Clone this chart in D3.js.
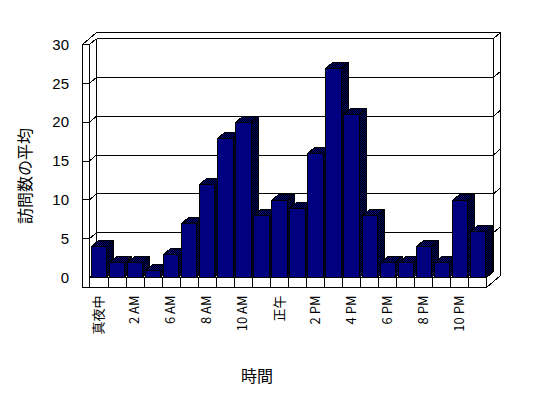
<!DOCTYPE html>
<html>
<head>
<meta charset="utf-8">
<script src="https://cdn.jsdelivr.net/npm/d3@7"></script>
<style>
  body { margin: 0; background: #fff; }
  svg { display: block; }
  .axis text { font-family: 'Noto Sans CJK JP', 'Liberation Sans', sans-serif; fill: #000; }
  .title { font-family: 'Noto Sans CJK JP', sans-serif; font-size: 16px; fill: #000; }
</style>
</head>
<body>
<div id="chart"></div>
<script>
// data
const categories = ['真夜中', '1 AM', '2 AM', '3 AM', '6 AM', '7 AM', '8 AM', '9 AM', '10 AM', '11 AM', '正午',
  '1 PM', '2 PM', '3 PM', '4 PM', '5 PM', '6 PM', '7 PM', '8 PM', '9 PM', '10 PM', '11 PM'];
const visits = [4, 2, 2, 1, 3, 7, 12, 18, 20, 8, 10, 9, 16, 27, 21, 8, 2, 2, 4, 2, 10, 6];
const yTicks = [0, 5, 10, 15, 20, 25, 30];
const xTickLabels = ['真夜中', '2 AM', '6 AM', '8 AM', '10 AM', '正午', '2 PM', '4 PM', '6 PM', '8 PM', '10 PM'];

const width = 548, height = 398;
// front plane of the plot
const plot = {left: 89.5, right: 486.5, base: 277.5, top: 44.5};
const dx = 7, dy = -6;       // depth offset of one layer
const wallLeft = 82.5;       // outer face of the left wall
const floorBottom = 287.5;   // bottom of floor slab

const svg = d3.select('#chart').append('svg')
  .attr('width', width)
  .attr('height', height)
  .attr('shape-rendering', 'crispEdges');

// checker fills for the top and side faces
const defs = svg.append('defs');
const checker = (id, a, b) => {
  const p = defs.append('pattern').attr('id', id).attr('width', 2).attr('height', 2)
    .attr('patternUnits', 'userSpaceOnUse');
  p.append('rect').attr('width', 2).attr('height', 2).attr('fill', a);
  p.append('rect').attr('width', 1).attr('height', 1).attr('fill', b);
  p.append('rect').attr('x', 1).attr('y', 1).attr('width', 1).attr('height', 1).attr('fill', b);
};
checker('topFill', '#000080', '#000');
checker('sideFill', '#000060', '#000');

const x = d3.scaleBand().domain(categories).range([plot.left, plot.right]);
const y = d3.scaleLinear().domain([0, 30]).range([plot.base, plot.top]);

const line = (pts) => 'M' + pts.map(p => p.join(',')).join('L');

// walls and floor
const frame = svg.append('g').attr('fill', 'none').attr('stroke', '#000');
frame.append('path')
  .attr('d', line([[wallLeft, plot.top], [wallLeft + 2 * dx, plot.top + 2 * dy], [plot.right + 2 * dx, plot.top + 2 * dy],
    [plot.right + 2 * dx, floorBottom + 2 * dy], [plot.right, floorBottom], [wallLeft, floorBottom]]) + 'Z')
  .attr('fill', '#fff');

const segs = [
  [[wallLeft, plot.top], [plot.left, plot.top]],
  [[plot.left, plot.top], [plot.left, floorBottom]],
  [[plot.left, plot.top], [plot.left + dx, plot.top + dy]],
  [[plot.left + dx, plot.top + dy], [plot.left + dx, plot.base + dy]],
  [[plot.left + dx, plot.top + dy], [plot.right + dx, plot.top + dy]],
  [[plot.right + dx, plot.top + dy], [plot.right + 2 * dx, plot.top + 2 * dy]],
  [[plot.right + dx, plot.top + dy], [plot.right + dx, plot.base + dy]],
  [[plot.right + dx, plot.base + dy], [plot.right, plot.base]],
  [[plot.left + dx, plot.base + dy], [plot.right + dx, plot.base + dy]],
  [[plot.left, plot.base], [plot.left + dx, plot.base + dy]],
  [[plot.left, plot.base], [plot.right, plot.base]],
  [[plot.right, plot.base], [plot.right, floorBottom]]
];
frame.selectAll('.edge').data(segs).enter().append('path')
  .attr('class', 'edge')
  .attr('d', d => line(d));

// gridlines across the back wall and side faces
const grid = frame.selectAll('.grid').data(yTicks.filter(v => v > 0 && v < 30)).enter()
  .append('g').attr('class', 'grid');
grid.append('path').attr('d', v => line([[wallLeft, y(v)], [plot.left, y(v)], [plot.left + dx, y(v) + dy],
  [plot.right + dx, y(v) + dy], [plot.right + 2 * dx, y(v) + 2 * dy]]));

// dividers on the floor front
frame.selectAll('.div').data(categories.slice(1)).enter().append('path')
  .attr('class', 'div')
  .attr('d', d => line([[Math.round(x(d)) + 0.5, plot.base], [Math.round(x(d)) + 0.5, floorBottom]]));

// bars, drawn left to right so each one hides the side of the one before
const pad = x.bandwidth() * 0.075;
const bars = svg.append('g').attr('stroke', '#000');
const bar = bars.selectAll('.bar').data(visits).enter().append('g').attr('class', 'bar');
const bx0 = (d, i) => Math.round(x(categories[i]) + pad) + 0.5;
const bx1 = (d, i) => Math.round(x(categories[i]) + x.bandwidth() - pad) + 0.5;
const by = d => Math.round(y(d)) + 0.5;

bar.append('path').attr('fill', 'url(#sideFill)')
  .attr('d', (d, i) => line([[bx1(d, i), by(d)], [bx1(d, i) + dx, by(d) + dy], [bx1(d, i) + dx, plot.base + dy], [bx1(d, i), plot.base]]) + 'Z');
bar.append('path').attr('fill', 'url(#topFill)')
  .attr('d', (d, i) => line([[bx0(d, i), by(d)], [bx1(d, i), by(d)], [bx1(d, i) + dx, by(d) + dy], [bx0(d, i) + dx, by(d) + dy]]) + 'Z');
bar.append('path').attr('fill', '#000080')
  .attr('d', (d, i) => line([[bx0(d, i), by(d)], [bx1(d, i), by(d)], [bx1(d, i), plot.base], [bx0(d, i), plot.base]]) + 'Z');

// y axis
const yAxis = svg.append('g').attr('class', 'axis')
  .attr('transform', 'translate(69,0)')
  .call(d3.axisLeft(y).tickValues(yTicks).tickSize(0).tickPadding(0));
yAxis.select('.domain').remove();
yAxis.selectAll('text')
  .style('font-family', "'Liberation Sans', sans-serif")
  .style('font-size', '15px');

// x axis
const shown = categories.filter(c => xTickLabels.includes(c));
const xAxis = svg.append('g').attr('class', 'axis')
  .attr('transform', `translate(0,${floorBottom})`)
  .call(d3.axisBottom(x).tickValues(shown).tickSize(0));
xAxis.select('.domain').remove();
xAxis.selectAll('text')
  .style('font-size', '13px')
  .attr('text-anchor', 'end')
  .attr('transform', 'rotate(-90)')
  .attr('x', -8)
  .attr('y', 0)
  .attr('dy', '0.35em');

// axis titles
svg.append('text').attr('class', 'title')
  .attr('transform', 'translate(25,176) rotate(-90)')
  .attr('text-anchor', 'middle')
  .attr('dy', '0.35em')
  .text('訪問数の平均');
svg.append('text').attr('class', 'title')
  .attr('x', 257).attr('y', 382)
  .attr('text-anchor', 'middle')
  .text('時間');
</script>
</body>
</html>
